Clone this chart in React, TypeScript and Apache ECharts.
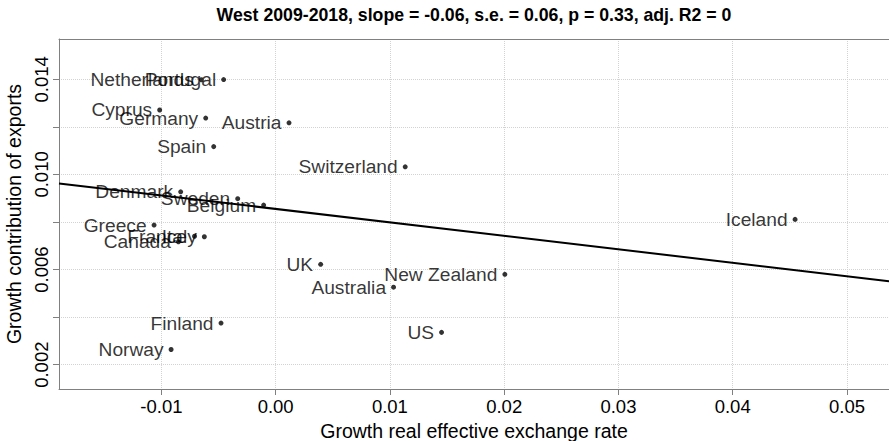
import React, { useEffect, useRef } from "react";
import * as echarts from "echarts";

const countries = [
  "Netherlands", "Portugal", "Cyprus", "Germany", "Austria", "Spain", "Switzerland",
  "Denmark", "Sweden", "Belgium", "Greece", "France", "Italy", "Canada", "UK",
  "New Zealand", "Australia", "US", "Iceland", "Finland", "Norway",
];
const rerGrowth = [
  -0.0065, -0.00455, -0.01015, -0.00612, 0.00117, -0.00542, 0.01134,
  -0.00831, -0.00332, -0.00105, -0.01064, -0.0071, -0.00624, -0.00851, 0.00394,
  0.02006, 0.01032, 0.01452, 0.04546, -0.00478, -0.00915,
];
const exportContribution = [
  0.01398, 0.01399, 0.01271, 0.01237, 0.01217, 0.01117, 0.01032,
  0.00927, 0.00898, 0.00871, 0.00787, 0.0074, 0.00738, 0.00717, 0.00622,
  0.0058, 0.00526, 0.00336, 0.00811, 0.00375, 0.00264,
];

const fitIntercept = 0.00855;
const fitSlope = -0.0566;

const xMin = -0.01896;
const xMax = 0.05368;
const yMin = 0.000978;
const yMax = 0.015695;

const xTickValues = [-0.01, 0, 0.01, 0.02, 0.03, 0.04, 0.05];
const xTickLabels = ["-0.01", "0.00", "0.01", "0.02", "0.03", "0.04", "0.05"];
const yTickValues = [0.002, 0.004, 0.006, 0.008, 0.01, 0.012, 0.014];
const yLabelValues = [0.002, 0.006, 0.01, 0.014];
const yTickLabels = ["0.002", "0.006", "0.010", "0.014"];

const titleText = "West 2009-2018, slope = -0.06, s.e. = 0.06, p = 0.33, adj. R2 = 0";
const xName = "Growth real effective exchange rate";
const yName = "Growth contribution of exports";

const FONT = "'Liberation Sans', Arial, Helvetica, sans-serif";

function labelFor(values: number[], labels: string[], v: number) {
  for (let i = 0; i < values.length; i++) {
    if (Math.abs(values[i] - v) < 1e-9) return labels[i];
  }
  return "";
}

export default function App() {
  const ref = useRef<HTMLDivElement>(null);
  useEffect(() => {
    if (!ref.current) return;
    const chart = echarts.init(ref.current, null, { renderer: "svg" });
    const points = countries.map((c, i) => [rerGrowth[i], exportContribution[i], c]);
    const fitLine = [xMin, xMax].map((x) => [x, fitIntercept + fitSlope * x]);
    const axisGray = "#808080";
    const gridStyle = { color: "#d3d3d3", type: "dotted" as const, width: 1 };
    chart.setOption({
      animation: false,
      backgroundColor: "#ffffff",
      textStyle: { fontFamily: FONT },
      grid: {
        left: 59,
        top: 39,
        right: 0,
        bottom: 52,
        containLabel: false,
        outerBoundsMode: "none",
      },
      graphic: [
        {
          type: "text",
          x: 474,
          y: 15,
          style: {
            text: titleText,
            align: "center",
            verticalAlign: "middle",
            font: `bold 17.7px ${FONT}`,
            fill: "#000",
          },
        },
      ],
      xAxis: [
        {
          type: "value",
          min: xMin,
          max: xMax,
          position: "bottom",
          name: xName,
          nameLocation: "middle",
          nameGap: 27,
          nameTextStyle: { fontSize: 19.5, color: "#000", fontFamily: FONT },
          axisLine: { show: true, onZero: false, lineStyle: { color: axisGray, width: 1 } },
          axisTick: { show: true, length: 6, customValues: xTickValues, lineStyle: { color: axisGray } },
          axisLabel: {
            customValues: xTickValues,
            fontSize: 18.5,
            color: "#000",
            margin: 8,
            fontFamily: FONT,
            formatter: (v: number) => labelFor(xTickValues, xTickLabels, v),
          },
          splitLine: { show: true, lineStyle: gridStyle },
        },
        {
          type: "value",
          min: xMin,
          max: xMax,
          position: "top",
          axisLine: { show: true, onZero: false, lineStyle: { color: axisGray, width: 1 } },
          axisTick: { show: false },
          axisLabel: { show: false },
          splitLine: { show: false },
        },
      ],
      yAxis: {
        type: "value",
        min: yMin,
        max: yMax,
        name: yName,
        nameLocation: "middle",
        nameGap: 30,
        nameRotate: 90,
        nameTextStyle: { fontSize: 19.5, color: "#000", fontFamily: FONT },
        axisLine: { show: true, onZero: false, lineStyle: { color: axisGray, width: 1 } },
        axisTick: { show: true, length: 6, customValues: yTickValues, lineStyle: { color: axisGray } },
        axisLabel: {
          customValues: yLabelValues,
          rotate: 90,
          fontSize: 18.5,
          color: "#000",
          margin: 8,
          fontFamily: FONT,
          formatter: (v: number) => labelFor(yLabelValues, yTickLabels, v),
        },
        splitLine: { show: true, lineStyle: gridStyle },
      },
      series: [
        {
          type: "line",
          data: fitLine,
          xAxisIndex: 0,
          symbol: "none",
          lineStyle: { color: "#000", width: 2 },
          silent: true,
          z: 3,
        },
        {
          type: "scatter",
          data: points,
          xAxisIndex: 0,
          symbol: "circle",
          symbolSize: 5,
          itemStyle: { color: "#000" },
          label: {
            show: true,
            position: "left",
            distance: 5,
            fontSize: 19.2,
            color: "#000",
            fontFamily: FONT,
            formatter: (p: any) => p.data[2],
          },
          z: 4,
        },
      ],
    });
    return () => chart.dispose();
  }, []);
  return (
    <div
      ref={ref}
      style={{ position: "absolute", left: 0, top: 0, width: 889, height: 441 }}
    />
  );
}
